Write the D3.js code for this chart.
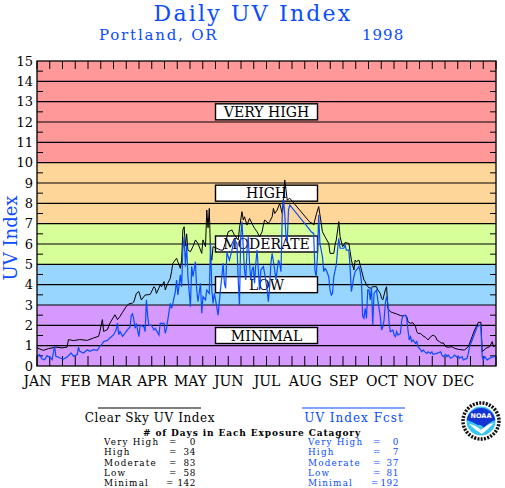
<!DOCTYPE html>
<html>
<head>
<meta charset="utf-8">
<script src="https://cdn.jsdelivr.net/npm/d3@7/dist/d3.min.js"></script>
<style>
  html, body { margin: 0; padding: 0; background: #ffffff; }
  svg { display: block; }
</style>
</head>
<body>
<script>
// ---------------- DATA ----------------
const months = ["JAN","FEB","MAR","APR","MAY","JUN","JUL","AUG","SEP","OCT","NOV","DEC"];
const yTicks = [0,1,2,3,4,5,6,7,8,9,10,11,12,13,14,15];

const bandLow   = [0, 3, 5, 7, 10];
const bandHigh  = [3, 5, 7, 10, 15];
const bandColor = ["#d699ff", "#99d6ff", "#d6ff99", "#ffd699", "#ff9999"];

const boxLabels = ["MINIMAL", "LOW", "MODERATE", "HIGH", "VERY HIGH"];
const boxCenter = [1.5, 4, 6, 8.5, 12.5];

// Clear sky UV index (black) : day of year, value
const clearDay = [0,5,9,15,20,24,25,29,34,40,45,49,50,52,53,56,58,62,64,66,68,71,73,76,77,79,81,83,86,90,
  93,94,95,98,99,101,102,104,106,107,108,111,112,114,115,116,117,118,119,120,122,124,126,128,131,132,134,135,136,137,
  138,139,140,143,146,148,150,152,155,157,160,161,163,164,165,167,169,171,173,175,177,179,180,181,184,185,187,188,189,191,
  193,195,196,197,198,199,201,217,219,220,222,224,226,227,229,232,233,236,237,238,240,241,243,244,245,248,249,250,252,253,
  254,256,257,258,260,261,262,263,265,267,270,271,273,274,275,277,278,279,281,283,286,289,291,293,294,295,297,299,301,302,
  303,305,307,309,311,313,315,317,318,320,322,323,325,327,330,332,335,338,340,343,346,348,351,353,354,357,360,362,363,365];
const clearUV = [0.89,0.77,0.85,0.93,0.89,0.93,1.3,1.25,1.3,1.26,1.38,1.46,1.7,2.28,1.7,1.79,2.11,2.52,2.28,2.44,2.64,2.93,3.05,3.1,3.15,3.57,3.66,3.25,3.49,3.52,
  3.9,3.82,3.57,3.98,3.9,4.15,3.74,4.07,4.31,4.64,5.05,5.3,5.13,4.8,5.21,6.69,6.85,5.9,6.5,5.7,5.62,5.87,6.2,6.03,5.54,6.2,5.87,7.67,6.8,7.75,
  5.5,5.2,5.87,5.79,5.7,5.7,6.1,6.6,6.69,6.44,6.2,6.77,7.59,7.18,7.34,6.93,7.26,7.0,6.77,6.6,6.36,6.6,6.93,7.18,7.02,7.1,7.34,7.75,7.5,7.67,
  8.0,7.5,8.25,9.15,8.66,8.16,8.25,7.07,7.02,6.93,7.43,7.84,7.02,6.6,6.36,6.03,5.54,5.54,5.95,6.2,7.1,6.36,5.87,5.95,6.07,6.03,5.62,5.21,4.72,5.21,
  5.13,5.21,4.97,4.72,4.23,4.15,3.98,3.9,3.82,3.9,3.9,3.74,3.57,3.33,3.25,3.74,3.9,2.84,2.67,2.62,2.56,2.48,2.46,2.5,2.43,2.18,2.1,2.13,1.93,1.69,
  1.6,1.6,1.48,1.41,1.28,1.44,1.52,1.44,1.28,1.2,1.11,1.15,0.95,0.92,0.95,0.87,0.82,0.79,0.79,0.95,1.44,1.77,2.15,2.15,0.7,0.87,0.95,1.2,0.95,1.03];

// UV index forecast (blue) : day of year, value
const fcstDay = [0,2,4,6,8,11,12,14,15,19,21,24,27,29,32,33,34,37,40,42,45,48,50,52,53,56,58,61,63,64,
  65,66,68,70,72,74,75,76,77,78,79,81,82,85,86,87,88,89,91,93,94,97,98,101,102,103,105,106,107,108,
  110,111,112,114,115,116,117,118,119,120,122,123,124,126,127,128,130,131,132,134,135,137,138,139,140,141,142,144,146,147,
  148,149,150,151,153,155,157,159,160,161,162,163,164,165,166,167,168,169,170,171,172,173,174,175,176,177,178,180,181,183,
  184,185,186,187,189,190,191,192,193,194,195,196,197,198,199,200,201,217,218,220,221,222,223,224,225,227,228,229,230,232,
  233,234,235,236,238,239,240,241,244,245,246,248,249,250,252,253,256,257,258,259,260,261,262,263,264,265,266,267,268,270,
  271,273,274,275,276,277,278,279,280,281,283,284,285,286,287,289,290,291,293,294,295,296,297,298,299,301,302,303,305,306,
  307,309,310,311,313,314,315,318,321,322,323,325,326,327,329,331,332,334,335,336,338,339,342,343,344,347,350,352,353,354,
  355,356,358,360,363,365];
const fcstUV = [0.48,0.56,0.34,0.31,0.51,0.39,0.31,0.97,0.48,0.38,0.34,0.44,0.64,0.48,0.56,0.93,0.72,0.64,0.8,0.72,0.8,0.77,0.97,1.1,1.21,1.26,1.38,1.54,1.79,2.11,
  1.54,1.7,1.46,1.62,1.79,1.92,2.5,2.57,2.28,1.85,2.1,1.44,2.0,1.93,1.69,3.25,2.43,2.0,2.0,1.77,1.85,1.52,2.1,2.1,1.6,1.85,2.67,3.08,2.84,3.08,
  3.66,4.23,3.49,4.48,3.9,5.7,6.36,4.9,6.0,4.4,2.92,4.9,4.4,5.13,3.74,3.16,4.07,2.6,3.41,3.25,3.74,3.57,6.03,3.74,3.08,3.57,3.25,2.5,3.82,4.4,
  5.05,4.07,3.82,5.6,5.2,5.7,6.2,6.03,4.23,3.0,6.36,7.1,5.87,4.72,4.23,5.7,6.36,5.05,4.23,4.72,4.89,4.07,5.05,5.7,4.72,3.74,4.72,4.89,4.56,3.74,
  3.16,3.9,5.05,5.54,4.72,4.23,4.72,5.21,5.05,4.64,7.34,8.16,7.5,6.36,6.1,7.67,7.92,6.69,6.6,6.52,4.72,4.39,5.38,7.43,6.0,5.38,4.64,4.8,4.72,4.39,
  3.74,3.49,3.57,4.39,4.97,5.7,6.28,5.79,5.79,5.95,5.7,5.7,4.8,3.66,4.39,4.64,4.89,4.64,4.15,2.43,2.34,2.84,2.34,3.74,3.74,3.25,3.9,2.02,3.57,3.74,
  3.25,2.43,1.77,1.93,2.26,3.08,3.41,3.08,2.1,1.69,1.77,1.52,1.44,1.69,1.52,1.6,2.25,2.46,2.5,2.34,1.77,1.28,1.44,1.2,1.28,1.11,1.2,0.95,0.79,0.7,
  0.79,0.66,0.62,0.7,0.62,0.7,0.57,0.62,0.7,0.54,0.46,0.57,0.46,0.54,0.38,0.46,0.54,0.43,0.49,0.38,0.46,0.3,0.38,0.62,0.95,1.44,1.93,2.0,1.97,0.46,
  0.3,0.46,0.3,0.38,0.46,0.46];

const statCategories = ["Very High", "High", "Moderate", "Low", "Minimal"];
const clearCounts = [0, 34, 83, 58, 142];
const fcstCounts  = [0, 7, 37, 81, 192];

// ---------------- DRAWING ----------------
const W = 505, H = 488;
const BLUE = "#0a4cff";
const SERIF = "'DejaVu Serif', 'Liberation Serif', serif";

const svg = d3.select("body").append("svg").attr("width", W).attr("height", H)
  .style("font-family", SERIF);

const x = d3.scaleLinear().domain([0, 365]).range([37, 496]);
const y = d3.scaleLinear().domain([0, 15]).range([366, 61]);

// Titles
svg.append("text").attr("x", 253).attr("y", 20.5).attr("text-anchor", "middle")
  .attr("font-size", 22).attr("letter-spacing", 2.2).attr("fill", BLUE).text("Daily UV Index");
svg.append("text").attr("x", 99).attr("y", 40).attr("font-size", 15)
  .attr("letter-spacing", 1.8).attr("fill", BLUE).text("Portland, OR");
svg.append("text").attr("x", 362).attr("y", 40).attr("font-size", 15)
  .attr("letter-spacing", 1).attr("fill", BLUE).text("1998");

// Bands
const bands = bandLow.map((lo, i) => ({lo, hi: bandHigh[i], c: bandColor[i]}));
svg.append("g").selectAll("rect").data(bands).join("rect")
  .attr("x", x(0)).attr("width", x(365) - x(0))
  .attr("y", d => y(d.hi)).attr("height", d => y(d.lo) - y(d.hi))
  .attr("fill", d => d.c);

// Grid lines at every integer
svg.append("g").selectAll("line").data(yTicks.slice(1, -1)).join("line")
  .attr("x1", x(0)).attr("x2", x(365))
  .attr("y1", d => y(d)).attr("y2", d => y(d))
  .attr("stroke", "#000").attr("stroke-width", 1.2);

// Half-unit ticks on left and right
const halfTicks = yTicks.slice(0, -1).map(v => v + 0.5);
svg.append("g").selectAll("line").data(halfTicks).join("line")
  .attr("x1", x(0)).attr("x2", x(0) + 6)
  .attr("y1", d => y(d)).attr("y2", d => y(d))
  .attr("stroke", "#000").attr("stroke-width", 1);
svg.append("g").selectAll("line").data(halfTicks).join("line")
  .attr("x1", x(365) - 6).attr("x2", x(365))
  .attr("y1", d => y(d)).attr("y2", d => y(d))
  .attr("stroke", "#000").attr("stroke-width", 1);

// Time ticks (three per month) top and bottom
const timeTicks = d3.range(0, 37).map(i => i * 365 / 36);
svg.append("g").selectAll("line").data(timeTicks).join("line")
  .attr("x1", d => x(d)).attr("x2", d => x(d))
  .attr("y1", y(15)).attr("y2", y(15) + 8)
  .attr("stroke", "#000").attr("stroke-width", 1);
svg.append("g").selectAll("line").data(timeTicks).join("line")
  .attr("x1", d => x(d)).attr("x2", d => x(d))
  .attr("y1", y(0) - 10).attr("y2", y(0))
  .attr("stroke", "#000").attr("stroke-width", 1);

// Category boxes
const boxes = boxLabels.map((t, i) => ({t, v: boxCenter[i]}));
const bg = svg.append("g");
bg.selectAll("rect").data(boxes).join("rect")
  .attr("x", 215.5).attr("width", 102)
  .attr("y", d => y(d.v) - 8).attr("height", 16)
  .attr("fill", "#fff").attr("stroke", "#000").attr("stroke-width", 1.4);
bg.selectAll("text").data(boxes).join("text")
  .attr("x", 266.5).attr("y", d => y(d.v) + 5)
  .attr("text-anchor", "middle").attr("font-size", 14).attr("fill", "#000")
  .text(d => d.t);

// Lines
const line = d3.line().x(d => x(d[0])).y(d => y(d[1]));
const clearPts = clearDay.map((d, i) => [d, clearUV[i]]);
const fcstPts = fcstDay.map((d, i) => [d, fcstUV[i]]);
svg.append("path").attr("d", line(clearPts)).attr("fill", "none")
  .attr("stroke", "#000").attr("stroke-width", 1);
svg.append("path").attr("d", line(fcstPts)).attr("fill", "none")
  .attr("stroke", BLUE).attr("stroke-width", 1.2);

// Frame
svg.append("rect").attr("x", x(0)).attr("y", y(15))
  .attr("width", x(365) - x(0)).attr("height", y(0) - y(15))
  .attr("fill", "none").attr("stroke", "#000").attr("stroke-width", 1.3);

// Y tick labels
svg.append("g").selectAll("text").data(yTicks).join("text")
  .attr("x", 33).attr("y", d => y(d) + 4.8)
  .attr("text-anchor", "end").attr("font-size", 13).attr("fill", "#000")
  .text(d => d);

// Y axis title
svg.append("text").attr("transform", "translate(16.5,238) rotate(-90)")
  .attr("text-anchor", "middle").attr("font-size", 18).attr("fill", BLUE)
  .text("UV Index");

// Month labels
svg.append("g").selectAll("text").data(months).join("text")
  .attr("x", (d, i) => x(i * 365 / 12) + 0.5).attr("y", 386)
  .attr("text-anchor", "middle").attr("font-size", 14).attr("fill", "#000")
  .text(d => d);

// Legend
svg.append("line").attr("x1", 98).attr("x2", 201).attr("y1", 408).attr("y2", 408)
  .attr("stroke", "#000").attr("stroke-width", 1.2);
svg.append("line").attr("x1", 302).attr("x2", 405).attr("y1", 408).attr("y2", 408)
  .attr("stroke", BLUE).attr("stroke-width", 1.2);
svg.append("text").attr("x", 150).attr("y", 422).attr("text-anchor", "middle")
  .attr("font-size", 12).attr("letter-spacing", 0.6).attr("fill", "#000").text("Clear Sky UV Index");
svg.append("text").attr("x", 354).attr("y", 422).attr("text-anchor", "middle")
  .attr("font-size", 12).attr("letter-spacing", 1.0).attr("fill", BLUE).text("UV Index Fcst");
svg.append("text").attr("x", 252).attr("y", 435.5).attr("text-anchor", "middle")
  .attr("font-size", 9).attr("font-weight", "bold").attr("letter-spacing", 0.9)
  .attr("fill", "#000").text("# of Days in Each Exposure Catagory");

const rowY = i => 445.3 + i * 10.1;
const stats = svg.append("g").attr("font-size", 8.8).attr("letter-spacing", 1.2);
function statColumn(counts, color, labelX, eqX, valX) {
  const g = stats.append("g").attr("fill", color);
  g.selectAll("text.lab").data(statCategories).join("text").attr("class", "lab")
    .attr("x", labelX).attr("y", (d, i) => rowY(i)).text(d => d);
  g.selectAll("text.eq").data(counts).join("text").attr("class", "eq")
    .attr("x", d => d >= 100 ? eqX[1] : eqX[0])
    .attr("y", (d, i) => rowY(i)).text("=");
  g.selectAll("text.val").data(counts).join("text").attr("class", "val")
    .attr("x", valX).attr("y", (d, i) => rowY(i)).attr("text-anchor", "end")
    .attr("letter-spacing", 0.6).text(d => d);
}
statColumn(clearCounts, "#000", 104, [169, 166], 196);
statColumn(fcstCounts, BLUE, 308, [373, 371], 399);

// NOAA logo
const logo = svg.append("g").attr("transform", "translate(481,421)");
logo.append("circle").attr("r", 18).attr("fill", "#fff")
  .attr("stroke", "#111").attr("stroke-width", 3.5).attr("stroke-dasharray", "2 1.3");
logo.append("circle").attr("r", 14.5).attr("fill", "#38c6f4");
logo.append("path")
  .attr("d", "M-14.3,-1 A14.5,14.5 0 0 1 14.3,-1 Q8,1 3,7 Q0,3 -3,4 Q-8,1 -14.3,-1 Z")
  .attr("fill", "#1633d6");
logo.append("path")
  .attr("d", "M-12,3 Q-5,4 0,9 Q6,3 13,2 Q7,8 1,13 Q-6,9 -12,3 Z")
  .attr("fill", "#fff");
logo.append("text").attr("y", -3).attr("text-anchor", "middle")
  .attr("font-family", "'DejaVu Sans', sans-serif").attr("font-weight", "bold")
  .attr("font-size", 6.5).attr("fill", "#fff").text("NOAA");
</script>
</body>
</html>
